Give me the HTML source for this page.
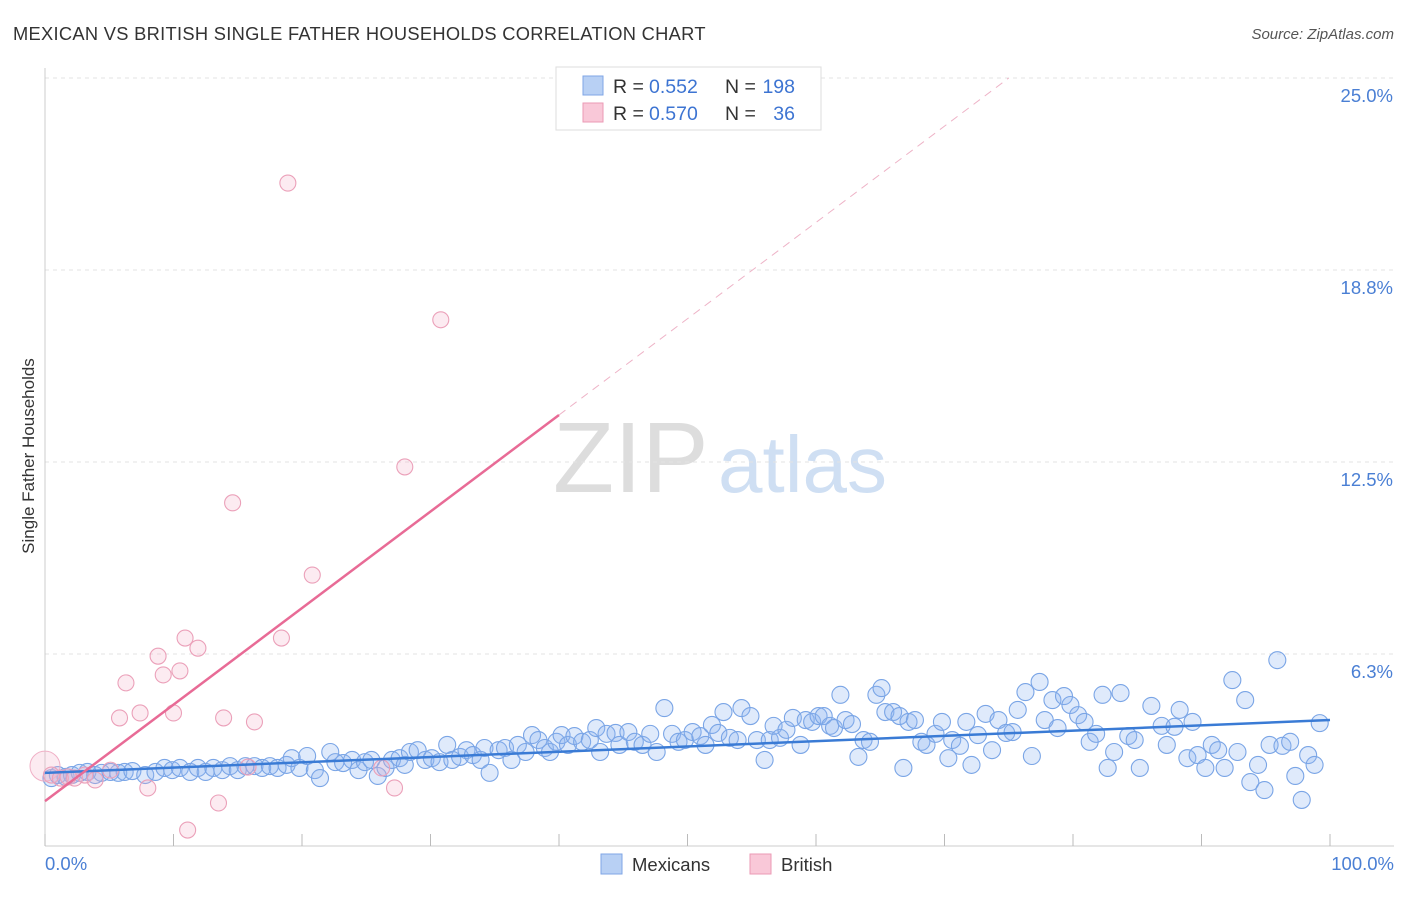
<!DOCTYPE html>
<html><head><meta charset="utf-8"><style>
body{margin:0;background:#fff;font-family:"Liberation Sans",sans-serif}
svg text{font-family:"Liberation Sans",sans-serif}
</style></head><body>
<svg width="1406" height="892" xmlns="http://www.w3.org/2000/svg">
<text x="13" y="40" font-size="18.3" letter-spacing="0.3" fill="#333">MEXICAN VS BRITISH SINGLE FATHER HOUSEHOLDS CORRELATION CHART</text>
<text x="1394" y="39" font-size="15" fill="#555" font-style="italic" text-anchor="end">Source: ZipAtlas.com</text>
<g>
<text x="553" y="492" font-size="100" font-family="Liberation Serif" fill="#ddd">ZIP</text>
<text x="718" y="492" font-size="80" fill="#cfdff3">atlas</text>
</g>
<g id="grid"></g>
<g id="axes"></g>
<g id="pts"></g>
<g id="trend"></g>
<text transform="translate(34,456) rotate(-90)" font-size="17" fill="#333" text-anchor="middle">Single Father Households</text>
<text x="45" y="870" font-size="18.5" fill="#4a7fd4">0.0%</text>
<text x="1394" y="870" font-size="18.5" fill="#4a7fd4" text-anchor="end">100.0%</text>
<g>
<rect x="556" y="67" width="265" height="63" fill="#fff" stroke="#ddd"/>
<rect x="583" y="76" width="20" height="19" fill="#b8d0f4" stroke="#7fa6e6"/>
<rect x="583" y="103" width="20" height="19" fill="#f9c8d8" stroke="#eb9ab5"/>
<text x="613" y="93" font-size="19.5" fill="#333">R =</text>
<text x="649" y="93" font-size="19.5" fill="#3d74d2">0.552</text>
<text x="725" y="93" font-size="19.5" fill="#333">N =</text>
<text x="795" y="93" font-size="19.5" fill="#3d74d2" text-anchor="end">198</text>
<text x="613" y="120" font-size="19.5" fill="#333">R =</text>
<text x="649" y="120" font-size="19.5" fill="#3d74d2">0.570</text>
<text x="725" y="120" font-size="19.5" fill="#333">N =</text>
<text x="795" y="120" font-size="19.5" fill="#3d74d2" text-anchor="end">36</text>
</g>
<g>
<rect x="601" y="854" width="21" height="20" fill="#b8d0f4" stroke="#7fa6e6"/>
<text x="632" y="871" font-size="18.5" fill="#333">Mexicans</text>
<rect x="750" y="854" width="21" height="20" fill="#f9c8d8" stroke="#eb9ab5"/>
<text x="781" y="871" font-size="18.5" fill="#333">British</text>
</g>
</svg>
<script>
const yTicks=[6.25,12.5,18.75,25];
const yTickLabels=["6.3%","12.5%","18.8%","25.0%"];
const xTicks=[0,10,20,30,40,50,60,70,80,90,100];
const mexX=[0.5,1.0,1.6,2.1,2.7,3.3,3.9,4.4,5.1,5.7,6.2,6.8,7.8,8.6,9.3,9.9,10.5,11.3,11.9,12.5,13.1,13.8,14.4,15.0,15.6,16.3,16.9,17.5,18.1,18.8,19.2,19.8,20.4,21.0,21.4,22.2,22.6,23.2,23.9,24.4,24.9,25.4,25.9,26.5,27.0,27.6,28.0,28.4,29.0,29.6,30.1,30.7,31.3,31.7,32.3,32.8,33.3,33.9,34.2,34.6,35.3,35.8,36.3,36.8,37.4,37.9,38.4,38.9,39.3,39.8,40.2,40.7,41.2,41.8,42.4,42.9,43.2,43.7,44.4,44.7,45.4,45.9,46.5,47.1,47.6,48.2,48.8,49.3,49.8,50.4,51.0,51.4,51.9,52.4,52.8,53.3,53.9,54.2,54.9,55.4,56.0,56.4,56.7,57.2,57.7,58.2,58.8,59.2,59.7,60.2,60.6,61.1,61.4,61.9,62.3,62.8,63.3,63.7,64.2,64.7,65.1,65.4,66.0,66.5,66.8,67.2,67.7,68.2,68.6,69.3,69.8,70.3,70.6,71.2,71.7,72.1,72.6,73.2,73.7,74.2,74.8,75.3,75.7,76.3,76.8,77.4,77.8,78.4,78.8,79.3,79.8,80.4,80.9,81.3,81.8,82.3,82.7,83.2,83.7,84.3,84.8,85.2,86.1,86.9,87.3,87.9,88.3,88.9,89.3,89.7,90.3,90.8,91.3,91.8,92.4,92.8,93.4,93.8,94.4,94.9,95.3,95.9,96.3,96.9,97.3,97.8,98.3,98.8,99.2];
const mexY=[2.21,2.31,2.25,2.31,2.38,2.41,2.31,2.38,2.41,2.38,2.41,2.44,2.31,2.41,2.54,2.47,2.54,2.41,2.54,2.41,2.54,2.47,2.60,2.47,2.60,2.60,2.54,2.60,2.54,2.64,2.86,2.54,2.93,2.47,2.21,3.06,2.73,2.70,2.80,2.47,2.73,2.80,2.28,2.54,2.80,2.86,2.64,3.06,3.12,2.80,2.86,2.73,3.29,2.80,2.90,3.12,2.96,2.80,3.19,2.38,3.12,3.19,2.80,3.29,3.06,3.61,3.45,3.19,3.06,3.39,3.61,3.29,3.58,3.39,3.45,3.84,3.06,3.65,3.68,3.29,3.71,3.39,3.29,3.65,3.06,4.49,3.65,3.39,3.45,3.71,3.58,3.29,3.94,3.68,4.36,3.52,3.45,4.49,4.23,3.45,2.80,3.45,3.91,3.52,3.78,4.17,3.29,4.10,4.04,4.23,4.23,3.91,3.84,4.92,4.10,3.97,2.90,3.45,3.39,4.92,5.14,4.36,4.36,4.23,2.54,4.04,4.10,3.39,3.29,3.65,4.04,2.86,3.45,3.26,4.04,2.64,3.61,4.30,3.12,4.10,3.68,3.71,4.43,5.01,2.93,5.34,4.10,4.75,3.84,4.88,4.59,4.26,4.04,3.39,3.65,4.92,2.54,3.06,4.98,3.58,3.45,2.54,4.56,3.91,3.29,3.88,4.43,2.86,4.04,2.96,2.54,3.29,3.12,2.54,5.40,3.06,4.75,2.08,2.64,1.82,3.29,6.05,3.26,3.39,2.28,1.50,2.96,2.64,4.00];
const briX=[0.5,1.2,1.8,2.3,3.1,3.9,5.1,5.8,6.3,7.4,8.0,8.8,9.2,10.0,10.5,10.9,11.1,11.9,13.5,13.9,14.6,15.8,16.3,18.4,18.9,20.8,26.2,27.2,28.0,30.8];
const briY=[2.31,2.21,2.25,2.21,2.31,2.15,2.47,4.17,5.31,4.33,1.89,6.18,5.57,4.33,5.70,6.77,0.52,6.44,1.40,4.17,11.17,2.57,4.04,6.77,21.58,8.82,2.54,1.89,12.34,17.13];
const briBig=[0.0,2.6];
const mexTrend=[2.38,4.1];
const briTrend=[1.46,14.03,25.0];
const briTrendX=[0,40,75];
const NS="http://www.w3.org/2000/svg";
const X=v=>45+v*12.85, Y=v=>846-v*30.72;
function mk(t,a,p){const e=document.createElementNS(NS,t);for(const k in a)e.setAttribute(k,a[k]);document.getElementById(p).appendChild(e);return e;}
yTicks.forEach((t,i)=>{
 const g=mk('line',{x1:45,x2:1394,y1:Y(t),y2:Y(t),stroke:'#e3e3e3','stroke-dasharray':'4,4'},'grid');
 
 
 const l=mk('text',{x:1393,y:Y(t)+24,'font-size':18.5,fill:'#4a7fd4','text-anchor':'end'},'axes');
 l.textContent=yTickLabels[i];
 
 
});
const ax=mk('line',{x1:45,x2:1394,y1:846,y2:846,stroke:'#ccc'},'axes');


const ay=mk('line',{x1:45,x2:45,y1:68,y2:846,stroke:'#ccc'},'axes');


xTicks.forEach(t=>{
 const e=mk('line',{x1:X(t),x2:X(t),y1:846,y2:834,stroke:'#bbb'},'axes');
 
 
});
mexX.forEach((x,i)=>{
 const c=mk('circle',{cx:X(x),cy:Y(mexY[i]),r:8.5,fill:'rgba(140,180,240,0.28)',stroke:'#7aa5e6','stroke-width':1.1},'pts');
 
 
});
const big=mk('circle',{cx:X(briBig[0]),cy:Y(briBig[1]),r:15,fill:'rgba(245,175,200,0.25)',stroke:'#f0b0c6','stroke-width':1},'pts');


briX.forEach((x,i)=>{
 const c=mk('circle',{cx:X(x),cy:Y(briY[i]),r:8,fill:'rgba(245,175,200,0.25)',stroke:'#eba0b9','stroke-width':1.1},'pts');
 
 
});
const t1=mk('line',{x1:X(0),y1:Y(mexTrend[0]),x2:X(100),y2:Y(mexTrend[1]),stroke:'#3a7bd5','stroke-width':2.5},'trend');


const t2=mk('line',{x1:X(briTrendX[0]),y1:Y(briTrend[0]),x2:X(briTrendX[1]),y2:Y(briTrend[1]),stroke:'#e86b96','stroke-width':2.5},'trend');


const t3=mk('line',{x1:X(briTrendX[1]),y1:Y(briTrend[1]),x2:X(briTrendX[2]),y2:Y(briTrend[2]),stroke:'#eeb3c7','stroke-width':1,'stroke-dasharray':'8,6'},'trend');


</script>
</body></html>
